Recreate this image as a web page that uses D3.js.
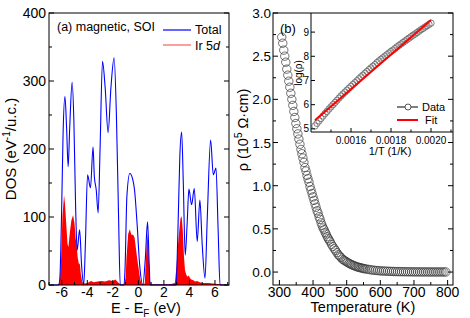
<!DOCTYPE html>
<html><head><meta charset="utf-8">
<script src="https://cdn.jsdelivr.net/npm/d3@7"></script>
<style>
body{margin:0;background:#fff;}
svg{display:block;font-family:"Liberation Sans",Arial,sans-serif;}
</style></head><body>
<svg id="c" width="470" height="318"></svg>
<script>
// ---------- DATA: panel (a) DOS ----------
const dosE = [-7.0,-6.25,-6.15,-6.0,-5.9,-5.75,-5.62,-5.5,-5.38,-5.19,-5.05,-4.92,-4.8,-4.6,-4.45,-4.28,-4.15,-3.98,-3.75,-3.55,-3.45,-3.3,-3.15,-3.0,-2.81,-2.6,-2.37,-2.15,-1.9,-1.72,-1.55,-1.42,-1.15,-1.05,-0.9,-0.67,-0.45,-0.3,-0.1,0.1,0.35,0.55,0.72,0.85,0.92,2.95,3.1,3.25,3.39,3.52,3.67,3.82,3.96,4.17,4.38,4.61,4.82,5.0,5.22,5.4,5.66,5.87,6.08,6.25,6.4,7.0];
const dosTotal = [0,0,10,120,220,277,230,174,230,298,240,120,51,81,30,0,60,162,143,203,160,140,106,200,329,290,224,290,334,250,100,0,0,20,130,164,156,140,90,30,0,40,93,30,0,0,80,190,225,150,44,90,141,118,142,64,125,60,10,100,213,162,172,80,0,0];
const irE = [-7.0,-6.3,-6.15,-6.05,-5.95,-5.82,-5.75,-5.65,-5.55,-5.48,-5.38,-5.25,-5.11,-5.0,-4.92,-4.85,-4.75,-4.65,-4.59,-4.5,-4.4,-4.33,-4.0,-3.7,-3.5,-3.2,-2.9,-2.6,-2.3,-2.0,-1.8,-1.6,-1.4,-1.15,-1.0,-0.93,-0.8,-0.67,-0.55,-0.41,-0.3,-0.2,-0.1,0.0,0.15,0.25,0.5,0.6,0.69,0.78,0.88,0.96,1.5,2.0,2.5,2.86,3.0,3.15,3.3,3.39,3.48,3.58,3.65,3.75,3.85,3.95,4.05,4.15,4.3,4.45,4.6,4.8,5.0,5.5,6.0,6.5,7.0];
const irDOS = [0,0,5,40,100,132,120,90,60,56,75,95,103,90,70,61,40,30,32,15,5,2,3,6,4,5,6,5,7,6,8,4,1,1,10,40,75,82,74,74,70,55,40,27,8,2,2,40,76,60,10,1,1,1,1,3,30,70,98,101,80,40,22,15,12,14,10,8,7,5,6,4,3,3,2,1,0];
const aXTicks = [-6,-4,-2,0,2,4,6];
const aYTicks = [0,100,200,300,400];

// ---------- DATA: panel (b) resistivity ----------
const tempK = [307,310,313,316,319,322,325,328,331,334,337,340,343,346,349,352,355,358,361,364,367,370,373,376,379,382,385,388,391,394,397,400,403,406,409,412,415,418,421,424,427,430,433,436,439,442,445,448,451,455,459,463,467,471,475,479,483,487,491,495,499,503,507,511,515,519,523,527,531,535,539,543,547,551,555,561,567,573,579,585,591,597,603,609,615,621,627,633,639,645,651,657,663,669,675,681,687,693,699,705,711,717,723,729,735,741,747,753,759,765,771,777,783,789,795];
const rho = [2.72,2.65,2.57,2.50,2.43,2.35,2.28,2.21,2.14,2.07,2.00,1.93,1.86,1.79,1.72,1.66,1.60,1.54,1.48,1.42,1.37,1.32,1.27,1.21,1.17,1.12,1.08,1.04,0.99,0.95,0.91,0.87,0.83,0.79,0.75,0.71,0.68,0.64,0.61,0.57,0.54,0.51,0.49,0.46,0.44,0.41,0.39,0.37,0.35,0.32,0.295,0.27,0.25,0.225,0.20,0.185,0.17,0.15,0.14,0.13,0.12,0.11,0.10,0.093,0.085,0.078,0.072,0.066,0.060,0.056,0.052,0.048,0.044,0.040,0.037,0.033,0.029,0.025,0.022,0.019,0.017,0.015,0.013,0.012,0.011,0.0095,0.0084,0.0075,0.0066,0.0058,0.0052,0.0046,0.0041,0.0037,0.0033,0.0030,0.0027,0.0024,0.0021,0.0019,0.0018,0.0017,0.0016,0.0015,0.0014,0.0013,0.0012,0.0012,0.0011,0.0011,0.0010,0.0010,0.0009,0.0009,0.0008];
const bXTicks = [300,400,500,600,700,800];
const bYTicks = [0,0.5,1.0,1.5,2.0,2.5,3.0];
// inset
const invT = [0.00142,0.00143,0.00144,0.00145,0.00146,0.00147,0.00148,0.00149,0.00150,0.00151,0.00152,0.00153,0.00154,0.00155,0.00156,0.00157,0.00158,0.00159,0.00160,0.00161,0.00162,0.00163,0.00164,0.00165,0.00166,0.00167,0.00168,0.00169,0.00170,0.00171,0.00172,0.00173,0.00174,0.00175,0.00176,0.00177,0.00178,0.00179,0.00180,0.00181,0.00182,0.00183,0.00184,0.00185,0.00186,0.00187,0.00188,0.00189,0.00190,0.00191,0.00192,0.00193,0.00194,0.00195,0.00196,0.00197,0.00198,0.00199,0.00200];
const logRho = [5.12,5.23,5.33,5.43,5.53,5.63,5.72,5.82,5.91,6.00,6.09,6.18,6.27,6.36,6.44,6.52,6.60,6.68,6.76,6.84,6.91,6.99,7.07,7.15,7.22,7.30,7.37,7.45,7.52,7.59,7.66,7.74,7.81,7.88,7.94,8.01,8.07,8.14,8.20,8.26,8.32,8.39,8.45,8.51,8.57,8.63,8.69,8.75,8.81,8.87,8.92,8.98,9.04,9.10,9.15,9.21,9.26,9.32,9.37];
const fitX = [0.00142,0.00200];
const fitY = [5.36,9.50];
const insetXTicks = [0.0016,0.0018,0.0020];
const insetYTicks = [5,6,7,8,9];

const svg = d3.select("#c");

function frame(g,x0,y0,x1,y1){
  g.append("rect").attr("x",x0).attr("y",y0).attr("width",x1-x0).attr("height",y1-y0)
   .attr("fill","none").attr("stroke","#000").attr("stroke-width",1);
}
function ticks(g,scale,vals,orient,pos,len){
  vals.forEach(v=>{
    const p = scale(v);
    if(orient==="bottom") g.append("line").attr("x1",p).attr("x2",p).attr("y1",pos).attr("y2",pos-len);
    if(orient==="left") g.append("line").attr("y1",p).attr("y2",p).attr("x1",pos).attr("x2",pos+len);
    if(orient==="right") g.append("line").attr("y1",p).attr("y2",p).attr("x1",pos).attr("x2",pos-len);
  });
  g.selectAll("line").attr("stroke","#000").attr("stroke-width",1);
}

// ---------- Panel (a) ----------
const ax = d3.scaleLinear().domain([-7,7.1]).range([49,229]);
const ay = d3.scaleLinear().domain([0,400]).range([285,13]);
const ga = svg.append("g");
const irArea = d3.area().x((d,i)=>ax(irE[i])).y0(ay(0)).y1((d,i)=>ay(irDOS[i]));
ga.append("path").datum(irE).attr("d",irArea).attr("fill","#ff0000").attr("stroke","none");
const totLine = d3.line().x((d,i)=>ax(dosE[i])).y((d,i)=>ay(dosTotal[i])).curve(d3.curveMonotoneX);
ga.append("path").datum(dosE).attr("d",totLine).attr("fill","none").attr("stroke","#0000ff").attr("stroke-width",1.1);
frame(ga,49,13,229,285);
const aminorX = [-7,-5,-3,-1,1,3,5,7];
const aminorY = [50,150,250,350];
ticks(ga.append("g"),ax,aXTicks,"bottom",285,5);
ticks(ga.append("g"),ax,aminorX,"bottom",285,3);
ticks(ga.append("g"),ay,aYTicks,"left",49,5);
ticks(ga.append("g"),ay,aminorY,"left",49,3);
ticks(ga.append("g"),ay,aYTicks,"right",229,5);
ticks(ga.append("g"),ay,aminorY,"right",229,3);
aXTicks.forEach(v=>ga.append("text").attr("x",ax(v)).attr("y",297).attr("text-anchor","middle").attr("font-size",14).text(v<0?"-"+Math.abs(v):v));
aYTicks.forEach(v=>ga.append("text").attr("x",46).attr("y",ay(v)+5).attr("text-anchor","end").attr("font-size",14).text(v));
const xt = ga.append("text").attr("x",146).attr("y",313).attr("text-anchor","middle").attr("font-size",14.5);
xt.append("tspan").text("E - E");
xt.append("tspan").attr("font-size",10).attr("dy",4).text("F");
xt.append("tspan").attr("dy",-4).text(" (eV)");
const yt = ga.append("text").attr("transform","translate(16,149) rotate(-90)").attr("text-anchor","middle").attr("font-size",15);
yt.append("tspan").text("DOS (eV");
yt.append("tspan").attr("font-size",10).attr("dy",-6).text("-1");
yt.append("tspan").attr("dy",6).text("/u.c.)");
ga.append("text").attr("x",57).attr("y",31).attr("font-size",12.5).text("(a) magnetic, SOI");
ga.append("line").attr("x1",163).attr("x2",191).attr("y1",30).attr("y2",30).attr("stroke","#0000ff").attr("stroke-width",1.2);
ga.append("text").attr("x",195).attr("y",34).attr("font-size",12.5).text("Total");
ga.append("line").attr("x1",163).attr("x2",191).attr("y1",45).attr("y2",45).attr("stroke","#ff5a5a").attr("stroke-width",1.2);
const irl = ga.append("text").attr("x",195).attr("y",50).attr("font-size",12.5);
irl.append("tspan").text("Ir 5");
irl.append("tspan").attr("font-style","italic").text("d");

// ---------- Panel (b) ----------
const bx = d3.scaleLinear().domain([281,816]).range([273,453]);
const by = d3.scaleLinear().domain([-0.15,3.0]).range([285,13]);
const gb = svg.append("g");
gb.selectAll("circle.m").data(tempK).enter().append("circle")
  .attr("cx",(d)=>bx(d)).attr("cy",(d,i)=>by(rho[i])).attr("r",4.2)
  .attr("fill","none").attr("stroke","#333").attr("stroke-width",0.7);
const bminorX = [350,450,550,650,750];
const bminorY = [0.25,0.75,1.25,1.75,2.25,2.75];
// inset background
gb.append("rect").attr("x",311).attr("y",13).attr("width",142).attr("height",119).attr("fill","#fff");
frame(gb,273,13,453,285);
ticks(gb.append("g"),bx,bXTicks,"bottom",285,5);
ticks(gb.append("g"),bx,bminorX,"bottom",285,3);
ticks(gb.append("g"),by,bYTicks,"left",273,5);
ticks(gb.append("g"),by,bminorY,"left",273,3);
ticks(gb.append("g"),by,bYTicks,"right",453,5);
ticks(gb.append("g"),by,bminorY,"right",453,3);
bXTicks.forEach(v=>gb.append("text").attr("x",bx(v)).attr("y",297).attr("text-anchor","middle").attr("font-size",14).text(v));
bYTicks.forEach(v=>gb.append("text").attr("x",271).attr("y",by(v)+5).attr("text-anchor","end").attr("font-size",13.5).text(v.toFixed(1)));
gb.append("text").attr("x",363).attr("y",312).attr("text-anchor","middle").attr("font-size",14.5).text("Temperature (K)");
const ryt = gb.append("text").attr("transform","translate(248,130) rotate(-90)").attr("text-anchor","middle").attr("font-size",14.5);
ryt.append("tspan").text("ρ (10");
ryt.append("tspan").attr("font-size",10).attr("dy",-6).text("5");
ryt.append("tspan").attr("dy",6).text(" Ω·cm)");
gb.append("text").attr("x",280).attr("y",33).attr("font-size",13).text("(b)");

// ---------- Inset ----------
const ix = d3.scaleLinear().domain([0.0014,0.00211]).range([311,453]);
const iy = d3.scaleLinear().domain([4.87,9.79]).range([132,13]);
const gi = svg.append("g");
gi.selectAll("circle").data(invT).enter().append("circle")
  .attr("cx",d=>ix(d)).attr("cy",(d,i)=>iy(logRho[i])).attr("r",3.2)
  .attr("fill","none").attr("stroke","#666").attr("stroke-width",0.8);
gi.append("path").datum(fitX).attr("d",d3.line().x(d=>ix(d)).y((d,i)=>iy(fitY[i])))
  .attr("stroke","#ff0000").attr("stroke-width",2).attr("fill","none");
gi.append("line").attr("x1",311).attr("x2",311).attr("y1",13).attr("y2",132).attr("stroke","#000");
gi.append("line").attr("x1",311).attr("x2",453).attr("y1",132).attr("y2",132).attr("stroke","#000");
ticks(gi.append("g"),ix,insetXTicks,"bottom",132,4);
ticks(gi.append("g"),ix,[0.0015,0.0017,0.0019,0.0021],"bottom",132,2.5);
ticks(gi.append("g"),iy,insetYTicks,"left",311,4);
insetXTicks.forEach(v=>gi.append("text").attr("x",ix(v)).attr("y",144).attr("text-anchor","middle").attr("font-size",10).text(v.toFixed(4)));
insetYTicks.forEach(v=>gi.append("text").attr("x",309).attr("y",iy(v)+3.5).attr("text-anchor","end").attr("font-size",10).text(v));
gi.append("text").attr("x",390).attr("y",155).attr("text-anchor","middle").attr("font-size",11).text("1/T (1/K)");
gi.append("text").attr("transform","translate(302,73) rotate(-90)").attr("text-anchor","middle").attr("font-size",10).text("log(ρ)");
gi.append("line").attr("x1",397).attr("x2",418).attr("y1",107).attr("y2",107).attr("stroke","#000");
gi.append("circle").attr("cx",408).attr("cy",107).attr("r",3).attr("fill","#fff").attr("stroke","#555");
gi.append("text").attr("x",422).attr("y",111).attr("font-size",11).text("Data");
gi.append("line").attr("x1",397).attr("x2",418).attr("y1",120).attr("y2",120).attr("stroke","#ff0000").attr("stroke-width",2);
gi.append("text").attr("x",425).attr("y",124).attr("font-size",11).text("Fit");
</script>
</body></html>
